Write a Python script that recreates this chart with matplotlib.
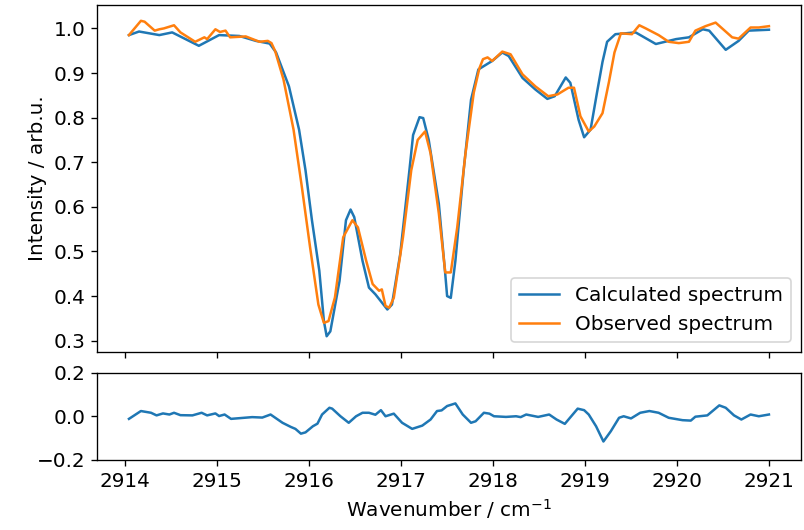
import matplotlib.pyplot as plt
import numpy as np

plt.rcParams['font.size'] = 12

# calculated spectrum (wavenumber / cm-1, normalised intensity)
wn_calc = [2914.04, 2914.15, 2914.37, 2914.51, 2914.80, 2915.02, 2915.24, 2915.42,
           2915.57, 2915.64, 2915.78, 2915.89, 2915.96, 2916.03, 2916.11, 2916.16,
           2916.19, 2916.23, 2916.33, 2916.40, 2916.45, 2916.49, 2916.58, 2916.65,
           2916.72, 2916.85, 2916.90, 2916.99, 2917.09, 2917.13, 2917.20, 2917.24,
           2917.30, 2917.41, 2917.48, 2917.50, 2917.54, 2917.59, 2917.68, 2917.76,
           2917.84, 2917.99, 2918.10, 2918.17, 2918.32, 2918.46, 2918.59, 2918.67,
           2918.79, 2918.84, 2918.93, 2918.99, 2919.06, 2919.13, 2919.19, 2919.24,
           2919.33, 2919.55, 2919.77, 2919.99, 2920.13, 2920.28, 2920.35, 2920.53,
           2920.67, 2920.78, 2921.00]
calc = [0.985, 0.993, 0.985, 0.991, 0.961, 0.985, 0.983, 0.972,
        0.966, 0.946, 0.870, 0.773, 0.682, 0.570, 0.457, 0.344,
        0.310, 0.321, 0.434, 0.570, 0.594, 0.577, 0.479, 0.419,
        0.404, 0.370, 0.381, 0.494, 0.682, 0.761, 0.801, 0.799,
        0.750, 0.607, 0.449, 0.400, 0.396, 0.479, 0.682, 0.840,
        0.908, 0.927, 0.946, 0.938, 0.889, 0.863, 0.842, 0.848,
        0.890, 0.878, 0.795, 0.756, 0.773, 0.856, 0.925, 0.970,
        0.987, 0.991, 0.965, 0.976, 0.980, 0.998, 0.995, 0.952,
        0.972, 0.995, 0.997]

# observed spectrum
wn_obs = [2914.04, 2914.17, 2914.21, 2914.32, 2914.37, 2914.42, 2914.53, 2914.60,
          2914.76, 2914.86, 2914.89, 2914.98, 2915.03, 2915.09, 2915.14, 2915.31,
          2915.46, 2915.55, 2915.59, 2915.63, 2915.72, 2915.83, 2915.92, 2916.01,
          2916.10, 2916.16, 2916.21, 2916.28, 2916.37, 2916.47, 2916.53, 2916.62,
          2916.69, 2916.76, 2916.79, 2916.83, 2916.87, 2916.92, 2917.02, 2917.11,
          2917.18, 2917.26, 2917.32, 2917.41, 2917.48, 2917.54, 2917.61, 2917.70,
          2917.79, 2917.85, 2917.89, 2917.94, 2917.99, 2918.10, 2918.19, 2918.32,
          2918.46, 2918.60, 2918.70, 2918.82, 2918.88, 2918.95, 2919.04, 2919.10,
          2919.19, 2919.26, 2919.32, 2919.39, 2919.51, 2919.59, 2919.66, 2919.80,
          2919.91, 2920.02, 2920.13, 2920.20, 2920.31, 2920.42, 2920.60, 2920.67,
          2920.80, 2920.89, 2921.00]
obs = [0.985, 1.017, 1.015, 0.995, 0.998, 1.000, 1.007, 0.991,
       0.970, 0.980, 0.976, 0.998, 0.992, 0.995, 0.980, 0.982,
       0.970, 0.972, 0.967, 0.949, 0.886, 0.773, 0.645, 0.509,
       0.381, 0.340, 0.344, 0.397, 0.532, 0.570, 0.554, 0.479,
       0.427, 0.412, 0.415, 0.378, 0.374, 0.396, 0.532, 0.682,
       0.750, 0.769, 0.720, 0.585, 0.453, 0.453, 0.554, 0.720,
       0.856, 0.910, 0.931, 0.935, 0.927, 0.948, 0.942, 0.897,
       0.870, 0.848, 0.852, 0.867, 0.867, 0.803, 0.769, 0.780,
       0.810, 0.880, 0.946, 0.989, 0.987, 1.007, 1.000, 0.985,
       0.970, 0.967, 0.970, 0.995, 1.005, 1.013, 0.980, 0.977,
       1.002, 1.002, 1.005]

# residual (observed - calculated)
wn_res = [2914.04, 2914.17, 2914.28, 2914.34, 2914.41, 2914.48, 2914.53, 2914.60,
          2914.73, 2914.83, 2914.89, 2914.98, 2915.02, 2915.08, 2915.15, 2915.38,
          2915.49, 2915.58, 2915.71, 2915.80, 2915.85, 2915.91, 2915.96, 2916.04,
          2916.09, 2916.14, 2916.22, 2916.25, 2916.34, 2916.43, 2916.51, 2916.58,
          2916.65, 2916.72, 2916.78, 2916.83, 2916.92, 2917.01, 2917.12, 2917.23,
          2917.32, 2917.39, 2917.44, 2917.50, 2917.59, 2917.67, 2917.76, 2917.81,
          2917.90, 2917.96, 2918.01, 2918.14, 2918.25, 2918.30, 2918.36, 2918.49,
          2918.61, 2918.69, 2918.78, 2918.85, 2918.92, 2918.99, 2919.04, 2919.12,
          2919.20, 2919.28, 2919.37, 2919.42, 2919.50, 2919.60, 2919.70, 2919.80,
          2919.91, 2920.06, 2920.15, 2920.20, 2920.33, 2920.46, 2920.53, 2920.62,
          2920.70, 2920.80, 2920.89, 2921.00]
res = [-0.011, 0.025, 0.017, 0.005, 0.014, 0.009, 0.017, 0.006,
       0.005, 0.017, 0.005, 0.014, 0.002, 0.009, -0.011, -0.003,
       -0.005, 0.009, -0.029, -0.048, -0.057, -0.079, -0.073, -0.045,
       -0.033, 0.009, 0.040, 0.036, 0.001, -0.029, 0.001, 0.017,
       0.017, 0.008, 0.029, 0.001, 0.013, -0.029, -0.057, -0.042,
       -0.014, 0.025, 0.028, 0.048, 0.060, 0.009, -0.029, -0.022,
       0.017, 0.013, 0.001, -0.002, 0.001, -0.003, 0.009, -0.002,
       0.009, -0.014, -0.034, 0.001, 0.036, 0.029, 0.009, -0.045,
       -0.115, -0.068, -0.006, 0.001, -0.009, 0.017, 0.025, 0.017,
       -0.006, -0.017, -0.019, -0.001, 0.005, 0.051, 0.040, 0.005,
       -0.014, 0.009, 0.001, 0.009]

fig = plt.figure(figsize=(6.7, 530/120), dpi=120)
ax1 = fig.add_axes([0.1206, 0.3358, 0.8756, 0.6547])
ax2 = fig.add_axes([0.1206, 0.1321, 0.8756, 0.1642], sharex=ax1)

ax1.plot(wn_calc, calc, label='Calculated spectrum')
ax1.plot(wn_obs, obs, label='Observed spectrum')
ax1.set_ylabel('Intensity / arb.u.')
ax1.legend(loc='lower right')
ax1.tick_params(labelbottom=False)

ax2.plot(wn_res, res)
ax2.set_ylim(-0.2, 0.2)
ax2.set_xlabel('Wavenumber / cm$^{-1}$')

plt.savefig('out.png', dpi=120)
